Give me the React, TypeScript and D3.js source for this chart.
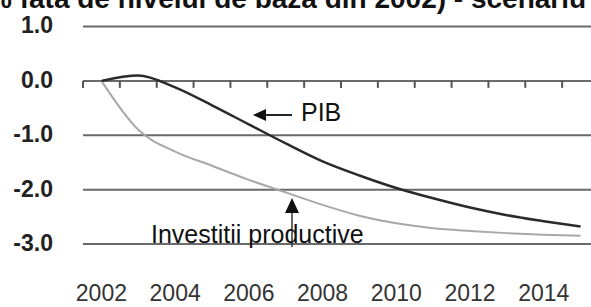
import React, { useEffect, useRef } from 'react';
import * as d3 from 'd3';

const width = 591,
  height = 307;

// ani 2002 - 2015
const years = ['2002', '2003', '2004', '2005', '2006', '2007', '2008', '2009', '2010', '2011', '2012', '2013', '2014', '2015'];
const yearLabels = ['2002', '2004', '2006', '2008', '2010', '2012', '2014'];
const yTicks = [1, 0, -1, -2, -3];

// abatere fata de nivelul de baza (%)
const pib = [0, 0.1, -0.12, -0.45, -0.8, -1.15, -1.48, -1.74, -1.97, -2.16, -2.33, -2.47, -2.58, -2.68];
const investitii = [0, -0.9, -1.3, -1.56, -1.82, -2.05, -2.28, -2.48, -2.62, -2.71, -2.76, -2.8, -2.83, -2.85];

const title = '% fata de nivelul de baza din 2002) - scenariu';
const font = 'Arial, "Liberation Sans", sans-serif';

export default function App() {
  const ref = useRef<SVGSVGElement>(null);

  useEffect(() => {
    const svg = d3.select(ref.current);
    svg.selectAll('*').remove();

    const x = d3.scaleBand().domain(years).range([83, 599]);
    const y = d3.scaleLinear().domain([-3, 1]).range([244, 26.5]);

    // titlul (taiat sus, ca in original)
    svg.append('text')
      .attr('x', -13)
      .attr('y', 8)
      .style('font-family', font)
      .style('font-weight', 'bold')
      .style('font-size', '28px')
      .attr('fill', '#111')
      .text(title);

    // linii orizontale
    svg.selectAll('.grid')
      .data(yTicks)
      .enter()
      .append('line')
      .attr('class', 'grid')
      .attr('x1', 83)
      .attr('x2', width)
      .attr('y1', (d) => y(d))
      .attr('y2', (d) => y(d))
      .attr('stroke', '#6a6a6a')
      .attr('stroke-width', 2);

    svg.selectAll('.ylab')
      .data(yTicks)
      .enter()
      .append('text')
      .attr('class', 'ylab')
      .attr('x', 53)
      .attr('y', (d) => y(d))
      .attr('dy', '0.3em')
      .attr('text-anchor', 'end')
      .style('font-family', font)
      .style('font-weight', 'bold')
      .style('font-size', '23px')
      .attr('fill', '#222')
      .text((d) => d.toFixed(1));

    // tick-uri pe axa 0
    svg.selectAll('.tick')
      .data(years)
      .enter()
      .append('line')
      .attr('class', 'tick')
      .attr('x1', (d) => x(d)!)
      .attr('x2', (d) => x(d)!)
      .attr('y1', y(0))
      .attr('y2', y(0) + 7)
      .attr('stroke', '#555')
      .attr('stroke-width', 2);

    svg.selectAll('.xlab')
      .data(yearLabels)
      .enter()
      .append('text')
      .attr('class', 'xlab')
      .attr('x', (d) => x(d)! + x.bandwidth() / 2)
      .attr('y', 301)
      .attr('text-anchor', 'middle')
      .style('font-family', font)
      .style('font-size', '23px')
      .attr('fill', '#333')
      .text((d) => d);

    const line = d3.line<number>()
      .x((d, i) => x(years[i])! + x.bandwidth() / 2)
      .y((d) => y(d))
      .curve(d3.curveMonotoneX);

    svg.append('path')
      .attr('d', line(investitii))
      .attr('fill', 'none')
      .attr('stroke', '#a8a8a8')
      .attr('stroke-width', 2);

    svg.append('path')
      .attr('d', line(pib))
      .attr('fill', 'none')
      .attr('stroke', '#2a2a2a')
      .attr('stroke-width', 2.5);

    // adnotari
    svg.append('line')
      .attr('x1', 292).attr('x2', 262)
      .attr('y1', 115).attr('y2', 115)
      .attr('stroke', '#222').attr('stroke-width', 2);
    svg.append('path')
      .attr('d', 'M253,115 L266,109 L266,121 Z')
      .attr('fill', '#111');
    svg.append('text')
      .attr('x', 301)
      .attr('y', 121)
      .style('font-family', font)
      .style('font-size', '25px')
      .attr('fill', '#111')
      .text('PIB');

    svg.append('line')
      .attr('x1', 292).attr('x2', 292)
      .attr('y1', 247).attr('y2', 208)
      .attr('stroke', '#333').attr('stroke-width', 1.5);
    svg.append('path')
      .attr('d', 'M292,198 L285,213 L299,213 Z')
      .attr('fill', '#111');
    svg.append('text')
      .attr('x', 151)
      .attr('y', 243)
      .style('font-family', font)
      .style('font-size', '25px')
      .attr('fill', '#111')
      .text('Investitii productive');
  }, []);

  return (
    <svg
      ref={ref}
      width={width}
      height={height}
      style={{ position: 'absolute', left: 0, top: 0, background: '#fff' }}
    />
  );
}
